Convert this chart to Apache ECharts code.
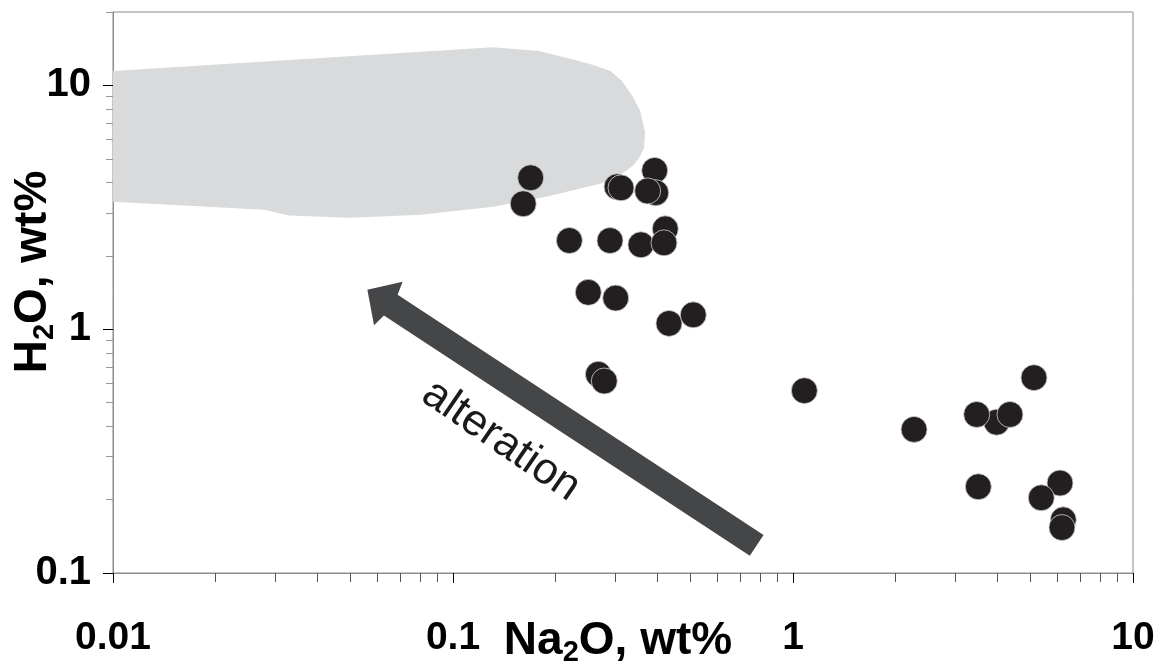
<!DOCTYPE html>
<html><head><meta charset="utf-8">
<script src="https://cdn.jsdelivr.net/npm/echarts@6/dist/echarts.min.js"></script>
<style>html,body{margin:0;padding:0;background:#fff}#c{width:1165px;height:669px}</style>
</head><body><div id="c"></div>
<script>
// Sample points (Na2O wt%, H2O wt%)
const na2o = [0.1692,0.1609,0.3037,0.3120,0.3919,0.3946,0.3737,0.2199,0.2896,0.3571,0.4211,0.4174,0.2500,0.3010,0.4318,0.5090,0.2676,0.2786,1.080,2.270,5.114,3.972,3.47,4.346,3.508,6.10,5.373,6.237,6.182];
const h2o  = [4.18,3.27,3.84,3.80,4.48,3.63,3.69,2.31,2.31,2.22,2.58,2.26,1.416,1.342,1.056,1.145,0.653,0.613,0.5596,0.388,0.6327,0.4155,0.4468,0.4468,0.2259,0.2339,0.2035,0.1652,0.1536];
// Grey field outline
const fieldNa2O = [0.01,0.1311,0.179,0.2285,0.2616,0.2915,0.3142,0.336,0.3548,0.367,0.3645,0.352,0.3384,0.3205,0.2955,0.2707,0.1877,0.1311,0.0805,0.0498,0.0329,0.0278,0.01];
const fieldH2O  = [11.45,14.33,13.84,12.71,12.08,11.42,10.39,9.12,7.89,6.47,5.51,5.01,4.69,4.43,4.14,3.95,3.49,3.18,2.945,2.862,2.926,3.088,3.33];
// Alteration arrow: [tail, tip]
const arrowNa2O = [0.782, 0.0560];
const arrowH2O  = [0.1298, 1.451];
const arrowLabel = 'alteration';
const arrowLabelNa2O = 0.1384, arrowLabelH2O = 0.349;
// Ticks
const xMajorTicks = [0.01, 0.1, 1, 10];
const xMinorTicks = [0.02,0.03,0.04,0.05,0.06,0.07,0.08,0.09,0.2,0.3,0.4,0.5,0.6,0.7,0.8,0.9,2,3,4,5,6,7,8,9];
const yMajorTicks = [0.1, 1, 10];
const yMinorTicks = [0.2,0.3,0.4,0.5,0.6,0.7,0.8,0.9,2,3,4,5,6,7,8,9,20];
const xTitle = 'Na{s|2}O, wt%';
const yTitle = 'H{s|2}O, wt%';

const FONT = 'Liberation Sans, Arial, Helvetica, sans-serif';
const fmt = v => String(+(+v).toPrecision(6));

const chart = echarts.init(document.getElementById('c'), null, {renderer: 'canvas'});

function xAx(major) {
  return {
    type: 'log', logBase: 10, min: 0.01, max: 10, position: 'bottom', offset: 0,
    axisLine: {show: major, lineStyle: {color: '#8c8c8c', width: 1}},
    axisTick: major ? {show: true, customValues: xMajorTicks, length: 10, lineStyle: {color: '#000', width: 1}}
                    : {show: true, customValues: xMinorTicks, length: 9, lineStyle: {color: '#555', width: 1}},
    axisLabel: major ? {show: true, customValues: xMajorTicks, formatter: fmt, fontSize: 39, fontWeight: 'bold',
                        fontFamily: FONT, color: '#000', margin: 46}
                     : {show: false},
    splitLine: {show: false}, minorTick: {show: false}, minorSplitLine: {show: false}
  };
}
function yAx(major) {
  return {
    type: 'log', logBase: 10, min: 0.1, max: 20, position: 'left', offset: 0,
    axisLine: {show: major, lineStyle: {color: '#8c8c8c', width: 1}},
    axisTick: major ? {show: true, customValues: yMajorTicks, length: 10, lineStyle: {color: '#000', width: 1}}
                    : {show: true, customValues: yMinorTicks, length: 7, lineStyle: {color: '#999', width: 1}},
    axisLabel: major ? {show: true, customValues: yMajorTicks, formatter: fmt, fontSize: 40, fontWeight: 'bold',
                        fontFamily: FONT, color: '#000', margin: 22}
                     : {show: false},
    splitLine: {show: false}, minorTick: {show: false}, minorSplitLine: {show: false}
  };
}

const fieldData = fieldNa2O.map((x, i) => [x, fieldH2O[i]]);
const arrowData = arrowNa2O.map((x, i) => [x, arrowH2O[i]]);

chart.setOption({
  animation: false,
  backgroundColor: '#fff',
  grid: {left: 113, right: 32, top: 12, bottom: 96, show: true, borderColor: '#8c8c8c', borderWidth: 1,
         containLabel: false, outerBoundsMode: 'none'},
  xAxis: [xAx(true), xAx(false)],
  yAxis: [yAx(true), yAx(false)],
  graphic: [
    {type: 'text', z: 10, x: 618, y: 641,
     style: {text: xTitle, align: 'center', verticalAlign: 'middle',
             fontSize: 46, fontWeight: 'bold', fontFamily: FONT, fill: '#000',
             rich: {s: {fontSize: 29, fontWeight: 'bold', fontFamily: FONT, padding: [24, 0, 0, 0]}}}},
    {type: 'text', z: 10, x: 33, y: 272, rotation: Math.PI / 2,
     style: {text: yTitle, align: 'center', verticalAlign: 'middle',
             fontSize: 46, fontWeight: 'bold', fontFamily: FONT, fill: '#000',
             rich: {s: {fontSize: 29, fontWeight: 'bold', fontFamily: FONT, padding: [24, 0, 0, 0]}}}}
  ],
  series: [
    {
      type: 'custom', xAxisIndex: 0, yAxisIndex: 0, z: 1, silent: true,
      data: fieldData,
      renderItem(params, api) {
        if (params.dataIndex !== 0) return null;
        const pts = fieldData.map(p => api.coord(p));
        return {type: 'polygon', shape: {points: pts}, style: {fill: '#d9dadc', stroke: null}};
      }
    },
    {
      type: 'custom', xAxisIndex: 0, yAxisIndex: 0, z: 2, silent: true,
      data: arrowData,
      renderItem(params, api) {
        if (params.dataIndex !== 0) return null;
        const tail = api.coord(arrowData[0]);
        const tip = api.coord(arrowData[1]);
        const dx = tail[0] - tip[0], dy = tail[1] - tip[1];
        const L = Math.hypot(dx, dy), ux = dx / L, uy = dy / L, nx = -uy, ny = ux;
        const P = (a, b) => [tip[0] + ux * a + nx * b, tip[1] + uy * a + ny * b];
        const hw = 12.5, headW = 26, headL = 25, notch = 28;
        const pts = [P(0, 0), P(headL, -headW), P(notch, -hw), P(L, -hw), P(L, hw), P(notch, hw), P(headL, headW)];
        const c = api.coord([arrowLabelNa2O, arrowLabelH2O]);
        return {type: 'group', children: [
          {type: 'polygon', shape: {points: pts}, style: {fill: '#454648'}},
          {type: 'text', x: c[0], y: c[1], rotation: -Math.atan2(uy, ux) - 0.02,
           style: {text: arrowLabel, align: 'center', verticalAlign: 'middle', fontSize: 44,
                   fontFamily: FONT, fill: '#1a1a1a'}}
        ]};
      }
    },
    {
      type: 'scatter', xAxisIndex: 0, yAxisIndex: 0, z: 3,
      symbol: 'circle', symbolSize: 26,
      itemStyle: {color: '#231f20', borderColor: '#cfcfcf', borderWidth: 0.8, opacity: 1},
      emphasis: {disabled: true},
      data: na2o.map((x, i) => [x, h2o[i]])
    }
  ]
});
</script></body></html>
